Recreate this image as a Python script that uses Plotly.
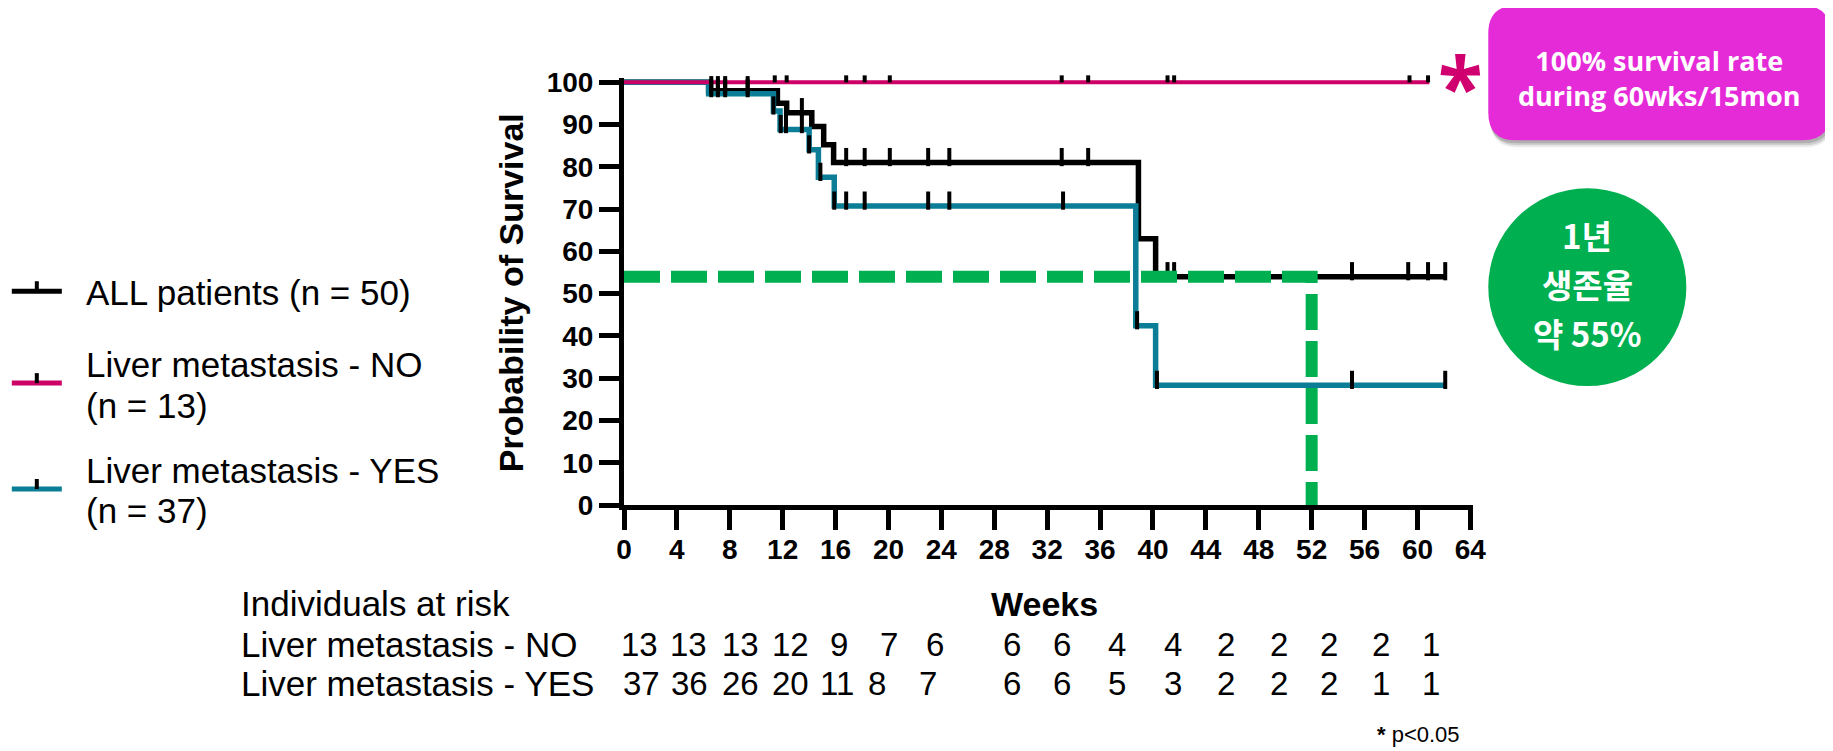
import plotly.graph_objects as go

# ---------------- data ----------------
all_times = [0, 6.4, 11.6, 12.3, 14.2, 15.1, 15.85, 38.9, 40.2, 62.2]
all_surv = [100, 98.0, 95.0, 92.8, 89.5, 85.2, 81.0, 63.0, 54.0, 54.0]

yes_times = [0, 6.4, 11.3, 11.8, 14.0, 14.7, 15.9, 38.7, 40.2, 62.2]
yes_surv = [100, 97.3, 93.2, 88.8, 84.0, 77.5, 70.7, 42.4, 28.3, 28.3]

no_times = [0, 60.9]
no_surv = [100, 100]

all_censor = [6.6, 7.1, 7.65, 9.35, 13.45, 16.8, 18.2, 20.1, 23.0, 24.6,
              33.1, 35.1, 41.1, 41.6, 55.05, 59.3, 60.8, 62.1]
yes_censor = [6.6, 7.1, 7.65, 9.35, 11.3, 11.85, 12.25, 13.45, 14.0, 14.85,
              15.9, 16.8, 18.2, 23.0, 24.6, 33.2, 38.8, 40.3, 55.05, 62.1]
no_censor = [11.4, 12.3, 16.8, 18.2, 20.1, 33.1, 35.1, 41.1, 41.6, 59.4, 60.8]

guide_x = [0, 52, 52]
guide_y = [54, 54, 0]

x_ticks = list(range(0, 65, 4))
y_ticks = list(range(0, 101, 10))

risk_no = [13, 13, 13, 12, 9, 7, 6, 6, 6, 4, 4, 2, 2, 2, 2, 1]
risk_yes = [37, 36, 26, 20, 11, 8, 7, 6, 6, 5, 3, 2, 2, 2, 1, 1]

legend_labels = ["ALL patients (n = 50)", "Liver metastasis - NO", "(n = 13)",
                 "Liver metastasis - YES", "(n = 37)"]
circle_lines = ["1년", "생존율", "약 55%"]

# ---------------- styling / layout ----------------
BLACK = "#000000"
TEAL = "#0B7D96"
MAGENTA = "#CC0066"
GREEN = "#00B050"
BOX = "#E52BD8"
FONT = "Liberation Sans, Arial, sans-serif"

PAGE_W, PAGE_H = 1833, 751
OX, OY = 8, 8                      # default page body margin
W, H = PAGE_W - OX, PAGE_H - OY     # figure size
L, R = 624.0, 624.0 + 64.2 * 13.22  # plot area in page pixels
B = 505.0
T = B - 101 * 4.232
PW, PH = R - L, B - T


def fx(px):
    return (px - L) / PW


def fy(py):
    return (B - py) / PH


def level(times, surv, t):
    v = surv[0]
    for tt, s in zip(times, surv):
        if tt <= t:
            v = s
    return v


fig = go.Figure()

# survival curves
fig.add_trace(go.Scatter(x=all_times, y=all_surv, mode="lines", line_shape="hv",
                         line=dict(color=BLACK, width=5.5), hoverinfo="skip"))
fig.add_trace(go.Scatter(x=yes_times, y=yes_surv, mode="lines", line_shape="hv",
                         line=dict(color=TEAL, width=5.5), hoverinfo="skip"))
fig.add_trace(go.Scatter(x=no_times, y=no_surv, mode="lines",
                         line=dict(color=MAGENTA, width=4), hoverinfo="skip"))

# censor marks
for times, surv, cens, size, off in [(all_times, all_surv, all_censor, 13, 1.3),
                                     (yes_times, yes_surv, yes_censor, 13, 1.3),
                                     (no_times, no_surv, no_censor, 5, 0.8)]:
    fig.add_trace(go.Scatter(
        x=cens, y=[level(times, surv, t) + off for t in cens], mode="markers",
        marker=dict(symbol="line-ns", size=size, line=dict(color=BLACK, width=4)),
        hoverinfo="skip", cliponaxis=False))

# 1-year guide
fig.add_trace(go.Scatter(x=guide_x, y=guide_y, mode="lines",
                         line=dict(color=GREEN, width=12, dash="36px,11px"),
                         hoverinfo="skip"))

shapes = []
ann = []

# legend
leg_rows = [(291, BLACK), (383, MAGENTA), (489, TEAL)]
for yy, col in leg_rows:
    shapes.append(dict(type="line", xref="paper", yref="paper", x0=fx(12), x1=fx(62),
                       y0=fy(yy), y1=fy(yy), line=dict(color=col, width=5)))
    shapes.append(dict(type="line", xref="paper", yref="paper", x0=fx(37), x1=fx(37),
                       y0=fy(yy - 10), y1=fy(yy), line=dict(color=BLACK, width=4)))
for txt, yy in zip(legend_labels, [292, 364, 405, 470, 511]):
    ann.append(dict(text=txt, x=fx(84), y=fy(yy), xref="paper", yref="paper",
                    xanchor="left", yanchor="middle", showarrow=False,
                    font=dict(family=FONT, size=35, color=BLACK)))

# axis titles
ann.append(dict(text="Probability of Survival", x=fx(511), y=fy(292), xref="paper",
                yref="paper", textangle=-90, showarrow=False, xanchor="center",
                yanchor="middle", font=dict(family=FONT, size=34, color=BLACK, weight="bold")))
ann.append(dict(text="Weeks", x=fx(1044), y=fy(604), xref="paper", yref="paper",
                showarrow=False, xanchor="center", yanchor="middle",
                font=dict(family=FONT, size=34, color=BLACK, weight="bold")))

# risk table
for txt, yy in [("Individuals at risk", 604), ("Liver metastasis - NO", 645),
                ("Liver metastasis - YES", 684)]:
    ann.append(dict(text=txt, x=fx(239), y=fy(yy), xref="paper", yref="paper",
                    xanchor="left", yanchor="middle", showarrow=False,
                    font=dict(family=FONT, size=35, color=BLACK)))
cols_no = [547, 589, 633, 676, 718, 760, 800, 866, 908, 955, 1003, 1049, 1094, 1137, 1181, 1224]
cols_yes = [549, 590, 633, 676, 716, 750, 794, 866, 908, 955, 1003, 1049, 1094, 1137, 1181, 1224]
for vals, cols, yy in [(risk_no, cols_no, 645), (risk_yes, cols_yes, 684)]:
    for v, c in zip(vals, cols):
        ann.append(dict(text=str(v), x=fx(c * 1.169), y=fy(yy), xref="paper", yref="paper",
                        xanchor="center", yanchor="middle", showarrow=False,
                        font=dict(family=FONT, size=33, color=BLACK)))

# footnote
ann.append(dict(text="<b>*</b> p&lt;0.05", x=fx(1462), y=fy(735), xref="paper", yref="paper",
                xanchor="right", yanchor="middle", showarrow=False,
                font=dict(family=FONT, size=22, color=BLACK)))


def rr_path(x0, y0, x1, y1, r):
    pts = [("M", [(x0 + r, y0)]), ("L", [(x1 - r, y0)]), ("Q", [(x1, y0), (x1, y0 + r)]),
           ("L", [(x1, y1 - r)]), ("Q", [(x1, y1), (x1 - r, y1)]), ("L", [(x0 + r, y1)]),
           ("Q", [(x0, y1), (x0, y1 - r)]), ("L", [(x0, y0 + r)]),
           ("Q", [(x0, y0), (x0 + r, y0)])]
    s = ""
    for cmd, ps in pts:
        s += cmd + " " + " ".join(f"{fx(a):.5f},{fy(b):.5f}" for a, b in ps) + " "
    return s + "Z"


# magenta box with soft shadow
for dx, dy, a in [(2, 7, 0.08), (2, 5, 0.12), (1, 3, 0.15)]:
    shapes.append(dict(type="path", xref="paper", yref="paper",
                       path=rr_path(1488 + dx, 5 + dy, 1830 + dx, 140 + dy, 28),
                       fillcolor=f"rgba(0,0,0,{a})", line=dict(width=0)))
shapes.append(dict(type="path", xref="paper", yref="paper",
                   path=rr_path(1488, 5, 1830, 140, 28), fillcolor=BOX, line=dict(width=0)))
ann.append(dict(text="100% survival rate<br>during 60wks/15mon", x=fx(1659), y=fy(78),
                xref="paper", yref="paper", xanchor="center", yanchor="middle",
                showarrow=False, align="center",
                font=dict(family="Open Sans, Noto Sans, sans-serif", size=27,
                          color="white", weight="bold")))

# asterisk
ann.append(dict(text="*", x=fx(1460), y=fy(85), xref="paper", yref="paper",
                xanchor="center", yanchor="middle", showarrow=False,
                font=dict(family="Open Sans, sans-serif", size=82, color="#D0006F", weight="bold")))

# green circle
shapes.append(dict(type="circle", xref="paper", yref="paper", x0=fx(1488), x1=fx(1686),
                   y0=fy(386), y1=fy(188), fillcolor="#00AF50", line=dict(width=0)))
for txt, yy in zip(circle_lines, [235, 284, 333]):
    ann.append(dict(text=txt, x=fx(1587), y=fy(yy), xref="paper", yref="paper",
                    xanchor="center", yanchor="middle", showarrow=False,
                    font=dict(family="Noto Sans CJK KR, sans-serif", size=33,
                              color="white", weight="bold")))

axis_common = dict(showline=True, linewidth=5, linecolor=BLACK, ticks="outside",
                   ticklen=20, tickwidth=5, tickcolor=BLACK, showgrid=False,
                   zeroline=False, tickfont=dict(family=FONT, size=28, color=BLACK, weight="bold"))

fig.update_layout(
    width=W, height=H, autosize=False,
    margin=dict(l=L - OX, r=PAGE_W - R, t=T - OY, b=PAGE_H - B, pad=0),
    paper_bgcolor="white", plot_bgcolor="white", showlegend=False,
    xaxis=dict(range=[0, 64.2], tickvals=x_ticks, ticklabelstandoff=-5, **axis_common),
    yaxis=dict(range=[0, 101], tickvals=y_ticks, **axis_common),
    shapes=shapes, annotations=ann,
)

fig.write_html("out.html", config={"displayModeBar": False})
